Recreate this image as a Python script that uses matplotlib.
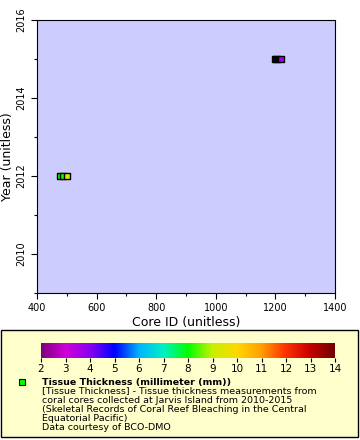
import matplotlib
matplotlib.use("Agg")
import matplotlib.pyplot as plt
import numpy as np
from matplotlib.colors import LinearSegmentedColormap, Normalize
from matplotlib.patches import Rectangle
from matplotlib.ticker import MultipleLocator

# Data
core_id = [1198, 1203, 1218, 477, 487, 500]
year = [2015, 2015, 2015, 2012, 2012, 2012]
thickness = [1.0, 1.0, 3.6, 8.0, 8.1, 9.2]

cbar_ticks = list(range(2, 15))
vmin, vmax = 2, 14

legend_title = "Tissue Thickness (millimeter (mm))"
legend_lines = ["[Tissue Thickness] - Tissue thickness measurements from",
                "coral cores collected at Jarvis Island from 2010-2015",
                "(Skeletal Records of Coral Reef Bleaching in the Central",
                "Equatorial Pacific)",
                "Data courtesy of BCO-DMO"]

cmap_colors = ["#800080", "#d000d8", "#8800f0", "#0000ff", "#00b4ff", "#00f0c8",
               "#00ff00", "#c8f000", "#ffd800", "#ffa000", "#ff3000", "#c80000", "#700000"]
cmap = LinearSegmentedColormap.from_list("erd", cmap_colors, N=256)
cmap.set_under("black")
norm = Normalize(vmin=vmin, vmax=vmax)

W, H = 360, 440
fig = plt.figure(figsize=(W / 100, H / 100), dpi=100)

ax = fig.add_axes([37 / W, 1 - 293 / H, (335 - 37) / W, (293 - 20) / H])
ax.set_facecolor("#ccccff")
ax.scatter(core_id, year, c=thickness, cmap=cmap, norm=norm, marker="s", s=22,
           edgecolors="black", linewidths=1.0, zorder=3)
ax.set_xlim(400, 1400)
ax.set_ylim(2009, 2016)
ax.xaxis.set_major_locator(MultipleLocator(200))
ax.xaxis.set_minor_locator(MultipleLocator(100))
ax.yaxis.set_major_locator(MultipleLocator(2))
ax.yaxis.set_minor_locator(MultipleLocator(1))
ax.tick_params(axis="both", which="major", length=4, labelsize=7, width=0.8)
ax.tick_params(axis="both", which="minor", length=2, width=0.8)
for lab in ax.get_yticklabels():
    lab.set_rotation(90)
    lab.set_va("center")
ax.set_xlabel("Core ID (unitless)", fontsize=9, labelpad=2)
ax.set_ylabel("Year (unitless)", fontsize=9, labelpad=2)
for s in ax.spines.values():
    s.set_linewidth(0.8)

# Legend box
fig.patches.append(Rectangle((1 / W, 1 - 437 / H), 357 / W, 107 / H, transform=fig.transFigure,
                             facecolor="#ffffcc", edgecolor="black", linewidth=1.0, zorder=0.5))

cax = fig.add_axes([41 / W, 1 - 358 / H, (335 - 41) / W, 15 / H])
cax.set_zorder(2)
grad = np.linspace(vmin, vmax, 512).reshape(1, -1)
cax.imshow(grad, aspect="auto", cmap=cmap, norm=norm, extent=[vmin, vmax, 0, 1])
cax.set_xlim(vmin, vmax)
cax.set_yticks([])
cax.set_xticks(cbar_ticks)
cax.tick_params(axis="x", length=3, labelsize=7.5, pad=1)
for s in cax.spines.values():
    s.set_visible(False)

fig.patches.append(Rectangle((19 / W, 1 - 385 / H), 6 / W, 6 / H, transform=fig.transFigure,
                             facecolor="#00ff00", edgecolor="black", linewidth=0.8, zorder=3))
fig.text(42 / W, 1 - 382 / H, legend_title, fontsize=6.8,
         fontweight="bold", va="center", ha="left", zorder=3)
for i, line in enumerate(legend_lines):
    fig.text(42 / W, 1 - (391 + 9 * i) / H, line, fontsize=6.8, va="center", ha="left", zorder=3)

fig.savefig("out.png", dpi=100)
